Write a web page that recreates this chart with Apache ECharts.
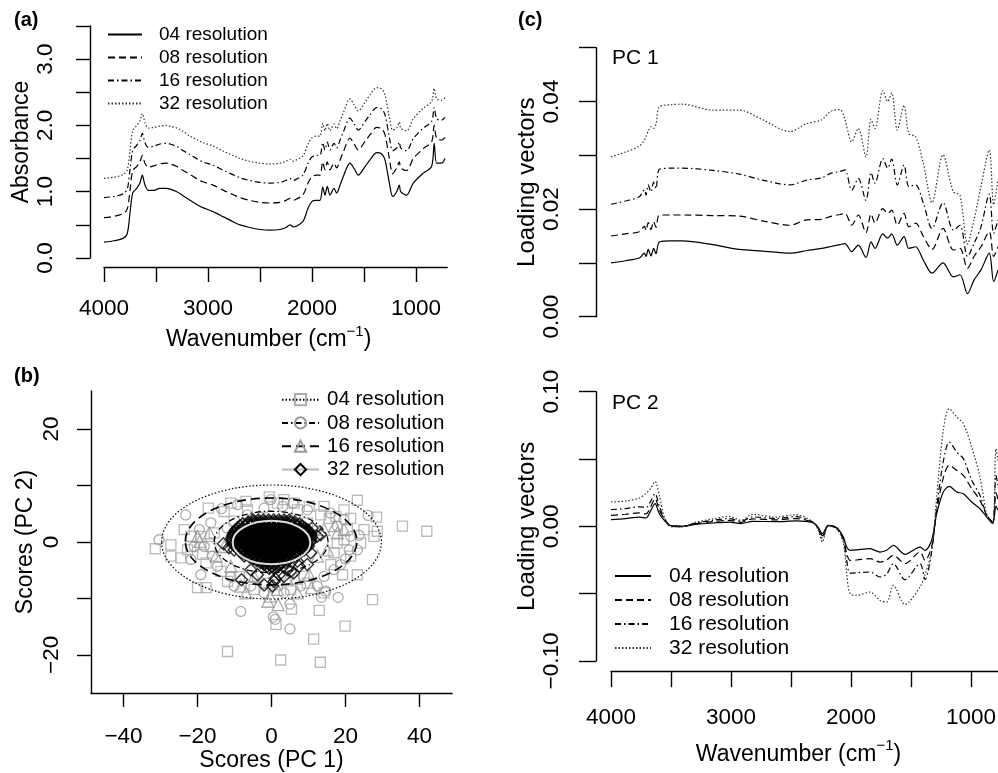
<!DOCTYPE html>
<html><head><meta charset="utf-8">
<script src="https://cdn.jsdelivr.net/npm/echarts@6/dist/echarts.min.js"></script>
<style>html,body{margin:0;padding:0;background:#fff}#c{width:998px;height:773px}</style>
</head><body><div id="c"></div><script>
// ---------- Panel (a): absorbance spectra ----------
const wnA = [4000,3900,3814,3776,3750,3724,3686,3654,3632,3606,3574,3520,3462,3400,3365,3300,3250,3173,3100,3050,2952,2850,2750,2692,2600,2500,2404,2308,2250,2212,2180,2150,2087,2038,2003,1960,1923,1897,1875,1853,1827,1788,1763,1730,1699,1635,1595,1555,1490,1442,1378,1330,1298,1256,1224,1186,1160,1147,1090,1026,930,850,825,801,754,721];
const abs04 = [0.24,0.26,0.30,0.37,0.68,0.98,1.05,1.13,1.25,1.10,1.02,1.02,1.05,1.05,1.04,1.00,0.95,0.87,0.80,0.76,0.70,0.62,0.54,0.50,0.46,0.43,0.42,0.43,0.46,0.50,0.47,0.48,0.55,0.75,0.85,0.87,0.87,1.07,0.95,1.08,0.95,1.05,0.98,1.10,1.23,1.43,1.35,1.25,1.38,1.48,1.59,1.57,1.48,1.13,0.93,1.00,1.10,1.00,0.95,1.13,1.28,1.38,1.73,1.43,1.43,1.50];
const abs08 = [0.61,0.63,0.67,0.74,1.02,1.32,1.38,1.45,1.55,1.43,1.37,1.39,1.42,1.43,1.42,1.38,1.33,1.26,1.19,1.15,1.10,1.02,0.95,0.91,0.87,0.84,0.83,0.84,0.87,0.90,0.87,0.89,0.95,1.13,1.22,1.25,1.25,1.45,1.33,1.45,1.33,1.43,1.36,1.48,1.60,1.81,1.72,1.63,1.76,1.86,1.97,1.95,1.86,1.50,1.27,1.36,1.45,1.36,1.32,1.50,1.65,1.75,2.00,1.80,1.78,1.82];
const abs16 = [0.91,0.93,0.97,1.04,1.33,1.62,1.70,1.77,1.88,1.74,1.67,1.69,1.72,1.73,1.72,1.68,1.63,1.56,1.49,1.45,1.40,1.32,1.25,1.21,1.17,1.14,1.13,1.14,1.17,1.20,1.17,1.19,1.25,1.43,1.52,1.55,1.55,1.74,1.63,1.75,1.63,1.73,1.66,1.78,1.90,2.11,2.02,1.93,2.06,2.16,2.27,2.25,2.16,1.82,1.62,1.66,1.75,1.66,1.62,1.80,1.96,2.06,2.27,2.10,2.08,2.12];
const abs32 = [1.20,1.22,1.26,1.33,1.62,1.92,2.00,2.07,2.18,2.04,1.96,1.97,1.99,2.00,1.99,1.96,1.92,1.84,1.78,1.74,1.69,1.61,1.54,1.50,1.46,1.43,1.42,1.43,1.46,1.49,1.46,1.48,1.54,1.72,1.81,1.84,1.84,2.03,1.92,2.03,1.92,2.02,1.95,2.07,2.19,2.40,2.31,2.22,2.35,2.46,2.57,2.55,2.46,2.12,1.93,1.96,2.05,1.96,1.92,2.10,2.26,2.36,2.56,2.40,2.38,2.42];

// ---------- Panel (c) PC 1 loadings ----------
const wnC1 = [4000,3880,3764,3722,3708,3690,3667,3645,3625,3597,3500,3403,3153,2931,2736,2508,2369,2244,2175,2092,2050,1994,1939,1875,1833,1800,1735,1694,1661,1614,1558,1518,1462,1397,1325,1233,1147,1092,1029,975,917,848,811,775];
const pc1_04 = [0.0100,0.0104,0.0109,0.0118,0.0112,0.0125,0.0113,0.0127,0.0117,0.0139,0.0141,0.0141,0.0134,0.0125,0.0122,0.0118,0.0123,0.0127,0.0130,0.0134,0.0136,0.0121,0.0133,0.0110,0.0139,0.0127,0.0154,0.0146,0.0154,0.0133,0.0149,0.0127,0.0130,0.0105,0.0081,0.0100,0.0074,0.0078,0.0043,0.0068,0.0087,0.0118,0.0065,0.0087];
const pc1_08 = [0.0150,0.0154,0.0158,0.0168,0.0160,0.0175,0.0162,0.0177,0.0166,0.0189,0.0189,0.0189,0.0188,0.0187,0.0178,0.0170,0.0180,0.0181,0.0186,0.0190,0.0192,0.0170,0.0189,0.0156,0.0191,0.0174,0.0201,0.0192,0.0198,0.0170,0.0192,0.0167,0.0174,0.0149,0.0125,0.0164,0.0124,0.0127,0.0090,0.0112,0.0130,0.0158,0.0112,0.0130];
const pc1_16 = [0.0209,0.0215,0.0223,0.0236,0.0226,0.0245,0.0232,0.0250,0.0238,0.0274,0.0276,0.0276,0.0272,0.0265,0.0254,0.0245,0.0254,0.0258,0.0266,0.0270,0.0273,0.0235,0.0257,0.0216,0.0268,0.0248,0.0294,0.0276,0.0293,0.0245,0.0282,0.0242,0.0245,0.0211,0.0164,0.0212,0.0161,0.0170,0.0112,0.0136,0.0167,0.0228,0.0155,0.0180];
const pc1_32 = [0.0297,0.0306,0.0317,0.0328,0.0335,0.0345,0.0353,0.0350,0.0358,0.0390,0.0394,0.0395,0.0384,0.0384,0.0366,0.0344,0.0359,0.0366,0.0381,0.0385,0.0366,0.0325,0.0350,0.0297,0.0367,0.0350,0.0420,0.0400,0.0416,0.0347,0.0393,0.0340,0.0335,0.0285,0.0212,0.0301,0.0232,0.0226,0.0135,0.0180,0.0242,0.0310,0.0208,0.0254];

// ---------- Panel (c) PC 2 loadings ----------
const wnC2 = [4000,3880,3764,3708,3670,3633,3597,3556,3500,3403,3292,3150,3014,2917,2820,2625,2458,2314,2272,2239,2189,2119,2064,2036,2008,1953,1842,1758,1703,1647,1550,1425,1383,1328,1286,1231,1181,1119,1064,994,925,869,819,792,775];
const pc2_04 = [0.0050,0.0058,0.0069,0.0062,0.0115,0.0169,0.0094,0.0045,0.0005,0.0002,0.0015,0.0025,0.0032,0.0020,0.0037,0.0035,0.0040,0.0025,-0.0010,-0.0054,0.0007,-0.0010,-0.0079,-0.0154,-0.0178,-0.0175,-0.0166,-0.0191,-0.0178,-0.0141,-0.0208,-0.0154,-0.0178,-0.0104,0.0094,0.0255,0.0297,0.0255,0.0243,0.0181,0.0131,0.0069,0.0020,0.0150,0.0120];
const pc2_08 = [0.0082,0.0090,0.0100,0.0092,0.0145,0.0206,0.0120,0.0055,0.0002,0.0000,0.0020,0.0035,0.0045,0.0030,0.0055,0.0048,0.0058,0.0028,-0.0015,-0.0070,0.0005,-0.0012,-0.0090,-0.0200,-0.0253,-0.0250,-0.0240,-0.0265,-0.0250,-0.0215,-0.0277,-0.0191,-0.0253,-0.0150,0.0110,0.0360,0.0453,0.0416,0.0379,0.0280,0.0193,0.0082,0.0032,0.0250,0.0200];
const pc2_16 = [0.0124,0.0132,0.0145,0.0140,0.0185,0.0243,0.0150,0.0062,0.0000,-0.0003,0.0025,0.0045,0.0058,0.0038,0.0070,0.0058,0.0072,0.0030,-0.0020,-0.0090,0.0005,-0.0015,-0.0100,-0.0250,-0.0347,-0.0345,-0.0339,-0.0376,-0.0355,-0.0277,-0.0396,-0.0277,-0.0396,-0.0190,0.0140,0.0480,0.0626,0.0552,0.0503,0.0342,0.0230,0.0082,0.0032,0.0380,0.0300];
const pc2_32 = [0.0181,0.0188,0.0210,0.0245,0.0280,0.0334,0.0230,0.0069,-0.0005,-0.0005,0.0032,0.0055,0.0074,0.0045,0.0089,0.0069,0.0087,0.0030,-0.0030,-0.0116,0.0005,-0.0020,-0.0120,-0.0350,-0.0500,-0.0513,-0.0488,-0.0550,-0.0562,-0.0438,-0.0580,-0.0450,-0.0360,-0.0180,0.0218,0.0713,0.0874,0.0812,0.0763,0.0589,0.0366,0.0094,0.0020,0.0577,0.0490];

// ---------- Panel (b): PCA scores [PC1, PC2] ----------
const sc04 = [[35.4,2.8],[42.0,1.9],[27.3,-10.2],[19.9,-14.9],[11.4,-17.2],[-11.9,-19.4],[2.5,-20.9],[13.2,-21.3],[5.4,-11.9],[12.9,-12.1],[1.2,-14.6],[23.2,7.4],[28.4,4.4],[27.7,1.0],[-31.4,-1.2],[-27.2,-0.5],[-27.2,-2.5],[-24.5,-2.8],[-20.0,-8.1],[-17.7,-8.1],[-17.1,6.0],[-11.0,6.9],[-6.9,7.2],[-0.6,8.0],[1.6,6.9],[6.1,6.9],[10.2,6.3],[14.2,6.3],[19.6,5.7],[21.4,4.2],[25.0,2.2],[-21.8,1.0],[-23.6,2.2],[-13.7,-5.2],[-11.9,-7.0],[-8.7,-6.1],[-4.7,-8.4],[-1.5,-7.3],[5.2,-8.4],[9.7,-7.3],[14.2,-9.0],[19.2,-5.8],[16.0,-4.0],[23.2,-5.8],[21.4,-2.5],[19.6,0.4],[24.1,-0.2],[-18.6,-2.2],[-16.4,-0.8],[-6.5,5.7],[-12.8,5.4],[3.4,7.5],[7.0,5.7],[15.6,4.2],[13.3,4.8],[17.4,4.5],[-17.7,-3.7],[28.6,1.9],[-21.8,-0.8],[-19.1,1.0],[-15.5,1.6],[-22.7,-1.4],[20.5,2.2],[17.8,-0.2],[16.9,-1.9],[-10.1,3.7],[9.7,3.4],[-3.8,-6.1],[1.6,-7.6],[8.8,-6.1]];
const sc08 = [[-30.4,0.4],[-23.2,4.8],[26.1,4.7],[-8.3,-12.3],[0.5,-13.3],[1.0,-13.7],[5.0,-15.4],[18.0,-9.8],[14.7,-8.7],[-19.1,-5.8],[23.7,1.2],[-21.8,-3.1],[-13.5,5.9],[-9.2,6.6],[-2.0,6.0],[3.0,6.3],[9.7,5.7],[16.0,5.1],[19.6,4.0],[21.4,1.0],[21.0,-1.4],[18.7,-4.0],[14.2,-6.1],[7.9,-7.8],[3.4,-9.0],[-5.6,-7.8],[-11.0,-6.1],[-14.6,-4.3],[-20.9,-0.8],[-19.5,2.2],[-16.4,3.4],[17.8,2.8],[23.2,-1.4],[-0.2,7.5],[5.8,6.9],[-6.5,4.8],[-18.2,-0.8],[16.9,-4.9],[12.4,-7.8],[-2.0,-9.0],[-10.1,-7.8],[13.5,-9.8],[-12.0,2.5],[12.0,2.0],[-16.0,-2.5],[20.0,-3.0],[5.0,-11.0]];
const sc16 = [[-19.4,0.1],[-6.9,-9.0],[-0.4,-9.6],[1.8,-11.1],[10.2,-5.8],[10.8,-8.1],[6.6,-6.4],[17.1,2.9],[17.8,1.6],[-15.0,-2.5],[-11.0,-4.3],[4.3,-6.7],[14.2,2.2],[-16.8,1.6],[-4.7,-6.1],[12.4,-2.5],[-12.8,-0.8],[15.1,-1.4],[-8.3,-7.8],[1.6,-8.4],[7.0,-9.0],[-20.0,1.0],[19.6,2.2],[-1.0,-10.5]];
const sc32 = [[-13.0,-0.3],[-8.1,-6.7],[-2.0,-7.6],[0.3,-7.8],[2.1,-5.8],[3.4,-6.1],[5.2,-5.2],[7.5,-4.3],[9.7,-4.0],[12.4,1.0],[13.3,1.3],[7.0,-3.4],[4.3,-4.9],[-3.8,-5.8],[-5.6,-4.9],[-10.1,-1.4],[-7.4,-2.5],[0.7,-7.0],[8.8,-1.4],[10.6,-1.9],[-11.5,-1.0],[11.0,2.5],[1.0,-6.5],[6.0,-5.5]];
// dense core of 32-resolution scores, by PC2 row: [PC2, [PC1 values]]
const sc32Core = [
  [3.8, [-5,-3.6,-2.2,-0.8,0.6,2,3.4,4.8]],
  [3.45, [-6.3,-4.9,-3.5,-2.1,-0.7,0.7,2.1,3.5,4.9,6.3]],
  [3.1, [-7.8,-6.4,-5,-3.6,-2.2,-0.8,0.6,2,3.4,4.8,6.2,7.6]],
  [2.75, [-8.5,-7.1,-5.7,-4.3,-2.9,-1.5,-0.1,1.3,2.7,4.1,5.5,6.9,8.3]],
  [2.4, [-9.2,-7.8,-6.4,-5,-3.6,-2.2,-0.8,0.6,2,3.4,4.8,6.2,7.6,9]],
  [2.05, [-9.6,-8.2,-6.8,-5.4,-4,-2.6,-1.2,0.2,1.6,3,4.4,5.8,7.2,8.6,9.8]],
  [1.7, [-10,-8.6,-7.2,-5.8,-4.4,-3,-1.6,-0.2,1.2,2.6,4,5.4,6.8,8.2,9.6]],
  [1.35, [-10.2,-8.8,-7.4,-6,-4.6,-3.2,-1.8,-0.4,1,2.4,3.8,5.2,6.6,8,9.4,10.5]],
  [1.0, [-10.4,-9,-7.6,-6.2,-4.8,-3.4,-2,-0.6,0.8,2.2,3.6,5,6.4,7.8,9.2,10.4]],
  [0.65, [-10.6,-9.2,-7.8,-6.4,-5,-3.6,-2.2,-0.8,0.6,2,3.4,4.8,6.2,7.6,9,10.4]],
  [0.3, [-10.5,-9.1,-7.7,-6.3,-4.9,-3.5,-2.1,-0.7,0.7,2.1,3.5,4.9,6.3,7.7,9.1,10.5]],
  [-0.05, [-10.4,-9,-7.6,-6.2,-4.8,-3.4,-2,-0.6,0.8,2.2,3.6,5,6.4,7.8,9.2,10.3]],
  [-0.4, [-10.2,-8.8,-7.4,-6,-4.6,-3.2,-1.8,-0.4,1,2.4,3.8,5.2,6.6,8,9.4]],
  [-0.75, [-9.6,-8.2,-6.8,-5.4,-4,-2.6,-1.2,0.2,1.6,3,4.4,5.8,7.2,8.6,9.8]],
  [-1.1, [-9.2,-7.8,-6.4,-5,-3.6,-2.2,-0.8,0.6,2,3.4,4.8,6.2,7.6,9]],
  [-1.45, [-8.5,-7.1,-5.7,-4.3,-2.9,-1.5,-0.1,1.3,2.7,4.1,5.5,6.9,8.3]],
  [-1.8, [-7.8,-6.4,-5,-3.6,-2.2,-0.8,0.6,2,3.4,4.8,6.2,7.6]],
  [-2.15, [-7,-5.6,-4.2,-2.8,-1.4,0,1.4,2.8,4.2,5.6,7]],
  [-2.5, [-6,-4.6,-3.2,-1.8,-0.4,1,2.4,3.8,5.2,6.4]],
  [-2.85, [-5,-3.6,-2.2,-0.8,0.6,2,3.4,4.8]],
  [-3.2, [-4,-2.6,-1.2,0.2,1.6,3,4.4]],
  [-3.55, [-3,-1.6,-0.2,1.2,2.6,3.8]],
  [-3.9, [-2,-0.6,0.8,2.2]],
  [-4.25, [-1.2,0.2,1.6]],
  [-4.6, [-0.6,0.8]]
];
// confidence ellipses: [centre PC1, centre PC2, radius PC1, radius PC2]
const ell04 = [0, 0, 29.7, 10.1];
const ell08 = [-0.1, 0, 15.4, 5.45];
const ell16 = [-0.1, 0.1, 23.2, 7.7];
const ell32 = [0, -0.1, 10.5, 3.85];

const resCodes = ['04','08','16','32'];
const tickWn = [4000,3500,3000,2500,2000,1500,1000];
const labWn = [4000,3000,2000,1000];

// ---------------------------------------------------------
const FONT = '"Liberation Sans", Arial, Helvetica, sans-serif';
const pairs = (xs, ys) => xs.map((x, i) => [x, ys[i]]);
const mns = s => String(s).replace('-', '\u2212');
const STY = {
  '04': { type: 'solid', color: '#000', width: 1.2 },
  '08': { type: [7, 4], color: '#000', width: 1.2 },
  '16': { type: [6, 3, 1.5, 3], color: '#000', width: 1.2 },
  '32': { type: [1.5, 2], color: '#333', width: 1.2 }
};
function spec(prefix, xi, xs, ys, code) {
  return { type: 'line', name: prefix + code, xAxisIndex: xi, yAxisIndex: xi, data: pairs(xs, ys),
    symbol: 'none', showSymbol: false, silent: true, animation: false, smooth: 0.3,
    lineStyle: { type: STY[code].type, color: STY[code].color, width: STY[code].width },
    itemStyle: { color: STY[code].color } };
}
const axLine = { show: true, onZero: false, lineStyle: { color: '#000', width: 1.4 } };
const tk = (vals, len) => ({ show: true, customValues: vals, length: len, lineStyle: { color: '#000', width: 1.4 } });
const lb = (vals, fmt, margin, rotate) => ({ show: true, customValues: vals, formatter: fmt, margin: margin, rotate: rotate || 0, fontSize: 22.5, color: '#000', fontFamily: FONT });
const nts = (extra) => Object.assign({ fontSize: 23, color: '#000', fontFamily: FONT,
  rich: { s: { fontSize: 15, verticalAlign: 'top', color: '#000', fontFamily: FONT } } }, extra || {});

const corePts = [];
sc32Core.forEach(r => r[1].forEach(x => corePts.push([x, r[0]])));

function ellSeries(name, p, stroke, width, dash, z) {
  return { type: 'custom', name: name, xAxisIndex: 1, yAxisIndex: 1, data: [p], z: z, silent: true,
    animation: false, clip: false, encode: { x: 0, y: 1 },
    renderItem: function (params, api) {
      const c = api.coord([api.value(0), api.value(1)]);
      const s = api.size([api.value(2), api.value(3)]);
      return { type: 'ellipse', shape: { cx: c[0], cy: c[1], rx: s[0], ry: s[1] },
        style: { fill: 'none', stroke: stroke, lineWidth: width, lineDash: dash } };
    } };
}
function scat(name, data, symbol, size, border, bw, z) {
  return { type: 'scatter', name: name, xAxisIndex: 1, yAxisIndex: 1, data: data, symbol: symbol,
    symbolSize: size, silent: true, animation: false, z: z,
    itemStyle: { color: 'rgba(0,0,0,0)', borderColor: border, borderWidth: bw } };
}
function dummy(name, lineStyle, symbol, border) {
  return { type: 'line', name: name, xAxisIndex: 1, yAxisIndex: 1, data: [], symbol: symbol, symbolSize: 11,
    lineStyle: lineStyle, itemStyle: { color: 'rgba(0,0,0,0)', borderColor: border, borderWidth: 1.3 } };
}

const series = [];
[abs04, abs08, abs16, abs32].forEach((ys, i) => series.push(spec('a', 0, wnA, ys, resCodes[i])));
[pc1_04, pc1_08, pc1_16, pc1_32].forEach((ys, i) => series.push(spec('p', 2, wnC1, ys, resCodes[i])));
[pc2_04, pc2_08, pc2_16, pc2_32].forEach((ys, i) => series.push(spec('c', 3, wnC2, ys, resCodes[i])));
series.push(scat('s04', sc04, 'rect', 10, '#aaa', 1.3, 2));
series.push(scat('s08', sc08, 'circle', 10, '#999', 1.3, 2));
series.push(scat('s16', sc16, 'triangle', 12, '#999', 1.3, 2));
series.push(scat('s32', sc32, 'diamond', 12, '#000', 1.4, 3));
series.push(scat('s32core', corePts, 'diamond', 13, '#000', 1.6, 3));
series.push(ellSeries('e04', ell04, '#000', 1.2, [1.5, 2], 5));
series.push(ellSeries('e16', ell16, '#000', 1.6, [9, 5], 5));
series.push(ellSeries('e08', ell08, '#000', 1.3, [6, 3, 1.5, 3], 5));
series.push(ellSeries('e32', ell32, '#ddd', 2, null, 6));
series.push(dummy('b04', { color: '#000', width: 1.2, type: [1.5, 2] }, 'rect', '#aaa'));
series.push(dummy('b08', { color: '#000', width: 1.2, type: [6, 3, 1.5, 3] }, 'circle', '#999'));
series.push(dummy('b16', { color: '#000', width: 1.6, type: [9, 5] }, 'triangle', '#999'));
series.push(dummy('b32', { color: '#bbb', width: 2.5, type: 'solid' }, 'diamond', '#000'));

const legFmt = n => n.slice(1) + ' resolution';
function legend(prefix, left, top, iw, fs, lh, padL, hideSym) {
  const l = { data: resCodes.map(c => prefix + c), orient: 'vertical', left: left, top: top, padding: 0,
    itemWidth: iw, itemHeight: 14, itemGap: 0, selectedMode: false, formatter: legFmt,
    textStyle: { fontSize: fs, lineHeight: lh, color: '#000', fontFamily: FONT, padding: [0, 0, 0, padL] } };
  if (hideSym) l.itemStyle = { opacity: 0 };
  return l;
}
const gridBase = { containLabel: false, outerBoundsMode: 'none' };

const option = {
  backgroundColor: '#fff',
  animation: false,
  title: [
    { text: '(a)', left: 14, top: 10, padding: 0, textStyle: { fontSize: 20, fontWeight: 'bold', color: '#000', fontFamily: FONT } },
    { text: '(b)', left: 14, top: 366, padding: 0, textStyle: { fontSize: 20, fontWeight: 'bold', color: '#000', fontFamily: FONT } },
    { text: '(c)', left: 518, top: 10, padding: 0, textStyle: { fontSize: 20, fontWeight: 'bold', color: '#000', fontFamily: FONT } },
    { text: 'PC 1', left: 612, top: 48, padding: 0, textStyle: { fontSize: 21, fontWeight: 'normal', color: '#000', fontFamily: FONT } },
    { text: 'PC 2', left: 612, top: 393, padding: 0, textStyle: { fontSize: 21, fontWeight: 'normal', color: '#000', fontFamily: FONT } }
  ],
  legend: [
    legend('a', 107, 23, 34, 19, 23, 12, true),
    legend('b', 281, 388, 37, 20.5, 23.3, 3, false),
    legend('c', 614, 564, 36, 21, 24, 13, true)
  ],
  grid: [
    Object.assign({ left: 104, top: 26, width: 343.2, height: 232 }, gridBase),
    Object.assign({ left: 91, top: 391, width: 361, height: 302 }, gridBase),
    Object.assign({ left: 611, top: 47.7, width: 387, height: 269 }, gridBase),
    Object.assign({ left: 611, top: 391.7, width: 387, height: 269.3 }, gridBase)
  ],
  xAxis: [
    { gridIndex: 0, type: 'value', inverse: true, min: 700, max: 4000, offset: 9, axisLine: axLine,
      axisTick: tk(tickWn, 15), axisLabel: lb(labWn, v => v, 30), splitLine: { show: false },
      name: 'Wavenumber (cm{s|\u22121})', nameLocation: 'middle', nameGap: 57, nameTextStyle: nts({ lineHeight: 32, padding: [0, 14, 0, 0] }) },
    { gridIndex: 1, type: 'value', min: -48.8, max: 48.8, axisLine: axLine,
      axisTick: tk([-40, -20, 0, 20, 40], 14), axisLabel: lb([-40, -20, 0, 20, 40], v => mns(v), 32), splitLine: { show: false },
      name: 'Scores (PC 1)', nameLocation: 'middle', nameGap: 54, nameTextStyle: nts() },
    { gridIndex: 2, type: 'value', inverse: true, min: 775, max: 4000, show: false, splitLine: { show: false } },
    { gridIndex: 3, type: 'value', inverse: true, min: 775, max: 4000, offset: 10.7, axisLine: axLine,
      axisTick: tk(tickWn, 15.5), axisLabel: lb(labWn, v => v, 35), splitLine: { show: false },
      name: 'Wavenumber (cm{s|\u22121})', nameLocation: 'middle', nameGap: 67, nameTextStyle: nts({ lineHeight: 32, padding: [0, 12, 0, 0] }) }
  ],
  yAxis: [
    { gridIndex: 0, type: 'value', min: 0, max: 3.5, offset: 14, axisLine: axLine,
      axisTick: tk([0, 0.5, 1, 1.5, 2, 2.5, 3, 3.5], 14), axisLabel: lb([0, 1, 2, 3], v => Number(v).toFixed(1), 33, 90),
      splitLine: { show: false }, name: 'Absorbance', nameLocation: 'middle', nameRotate: 90, nameGap: 56, nameTextStyle: nts() },
    { gridIndex: 1, type: 'value', min: -26.75, max: 26.75, axisLine: axLine,
      axisTick: tk([-20, -10, 0, 10, 20], 14), axisLabel: lb([-20, 0, 20], v => mns(v), 28, 90),
      splitLine: { show: false }, name: 'Scores (PC 2)', nameLocation: 'middle', nameRotate: 90, nameGap: 54, nameTextStyle: nts() },
    { gridIndex: 2, type: 'value', min: 0, max: 0.05, offset: 15, axisLine: axLine,
      axisTick: tk([0, 0.01, 0.02, 0.03, 0.04, 0.05], 17), axisLabel: lb([0, 0.02, 0.04], v => Number(v).toFixed(2), 33, 90),
      splitLine: { show: false }, name: 'Loading vectors', nameLocation: 'middle', nameRotate: 90, nameGap: 42, nameTextStyle: nts({ fontSize: 24 }) },
    { gridIndex: 3, type: 'value', min: -0.1, max: 0.1, offset: 15, axisLine: axLine,
      axisTick: tk([-0.1, -0.05, 0, 0.05, 0.1], 17), axisLabel: lb([-0.1, 0, 0.1], v => mns(Number(v).toFixed(2)), 33, 90),
      splitLine: { show: false }, name: 'Loading vectors', nameLocation: 'middle', nameRotate: 90, nameGap: 42, nameTextStyle: nts({ fontSize: 24 }) }
  ],
  series: series
};
const chart = echarts.init(document.getElementById('c'), null, { renderer: 'canvas' });
chart.setOption(option);
</script></body></html>
